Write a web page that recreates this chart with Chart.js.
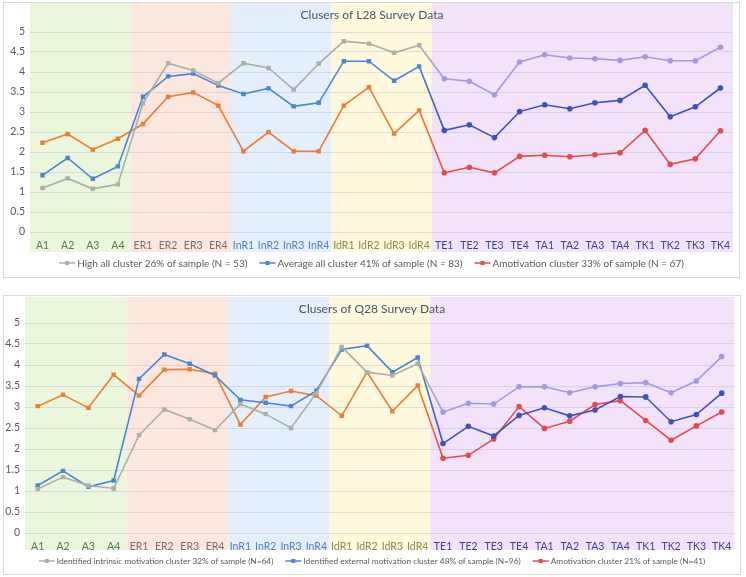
<!DOCTYPE html>
<html>
<head>
<meta charset="utf-8">
<script src="https://cdn.jsdelivr.net/npm/chart.js@4"></script>
<style>
  body { margin: 0; background: #fff; width: 746px; height: 577px; position: relative; overflow: hidden; }
  .box { position: absolute; border: 1px solid #d9d9d9; box-sizing: border-box; }
  #box1 { left: 3px; top: 2px; width: 737px; height: 276px; }
  #box2 { left: 3px; top: 295px; width: 738px; height: 280px; }
</style>
</head>
<body>
<div class="box" id="box1"><canvas id="chart1"></canvas></div>
<div class="box" id="box2"><canvas id="chart2"></canvas></div>
<script>
// categorias
const cats = ['A1','A2','A3','A4','ER1','ER2','ER3','ER4','InR1','InR2','InR3','InR4',
  'IdR1','IdR2','IdR3','IdR4','TE1','TE2','TE3','TE4','TA1','TA2','TA3','TA4','TK1','TK2','TK3','TK4'];
// grupos de fondo (A, ER, InR, IdR, T)
const groupSizes = [4, 4, 4, 4, 12];
const yTicks = [0, 0.5, 1, 1.5, 2, 2.5, 3, 3.5, 4, 4.5, 5];

// L28
const l28Labels = ['High all cluster 26% of sample (N = 53)',
  'Average all cluster 41% of sample (N = 83)',
  'Amotivation cluster 33% of sample (N = 67)'];
const l28High = [1.10,1.34,1.08,1.19,3.22,4.22,4.04,3.72,4.22,4.10,3.56,4.21,4.77,4.71,4.48,4.67,
  3.83,3.77,3.43,4.25,4.43,4.35,4.33,4.29,4.38,4.28,4.28,4.62];
const l28Avg = [1.42,1.85,1.33,1.64,3.38,3.89,3.96,3.66,3.45,3.59,3.14,3.23,4.27,4.27,3.78,4.14,
  2.54,2.68,2.36,3.01,3.18,3.08,3.23,3.29,3.67,2.88,3.13,3.60];
const l28Amot = [2.23,2.45,2.06,2.33,2.70,3.38,3.49,3.16,2.02,2.50,2.02,2.02,3.16,3.62,2.46,3.04,
  1.48,1.62,1.48,1.89,1.92,1.88,1.93,1.98,2.54,1.69,1.83,2.53];

// Q28
const q28Labels = ['Identified intrinsic motivation cluster 32% of sample (N=64)',
  'Identified external motivation cluster 48% of sample (N=96)',
  'Amotivation cluster 21% of sample (N=41)'];
const q28Intr = [1.05,1.33,1.13,1.06,2.33,2.94,2.71,2.45,3.07,2.83,2.50,3.33,4.43,3.83,3.75,4.03,
  2.88,3.09,3.07,3.48,3.48,3.34,3.48,3.56,3.58,3.34,3.62,4.20];
const q28Ext = [1.13,1.48,1.10,1.25,3.67,4.25,4.03,3.75,3.17,3.10,3.02,3.39,4.37,4.46,3.83,4.18,
  2.13,2.54,2.31,2.80,2.98,2.79,2.93,3.25,3.24,2.65,2.82,3.33];
const q28Amot = [3.02,3.29,2.98,3.77,3.27,3.89,3.90,3.79,2.58,3.24,3.38,3.27,2.79,3.83,2.90,3.51,
  1.78,1.85,2.24,3.01,2.49,2.66,3.06,3.15,2.68,2.21,2.55,2.88];

// colores
const bandColors = ['#ebf7dd', '#fce7df', '#e4effb', '#fef9dd', '#f2e3fb'];
const tickColors = ['#56793f', '#7d6b6b', '#4d7fc2', '#8a8a50', '#3d3da6'];
const earlyColors = ['#a8b0a8', '#4a86d6', '#ed7d31'];
const lateColors = ['#a29be0', '#3d52c0', '#e64a4a'];
const splitIdx = 16; // primer punto de la zona T
const font = 'Lato';

function groupOf(i) {
  let acc = 0;
  for (let g = 0; g < groupSizes.length; g++) {
    acc += groupSizes[g];
    if (i < acc) return g;
  }
  return groupSizes.length - 1;
}

// fondos, titulo y leyenda tipo Excel
const decoPlugin = {
  id: 'deco',
  beforeDraw(chart, args, opts) {
    const { ctx, chartArea, scales: { x } } = chart;
    const w = x.getPixelForValue(1) - x.getPixelForValue(0);
    let start = 0;
    ctx.save();
    groupSizes.forEach((n, g) => {
      const left = x.getPixelForValue(start) - w / 2;
      const right = x.getPixelForValue(start + n - 1) + w / 2;
      ctx.fillStyle = bandColors[g];
      ctx.fillRect(left, opts.bandTop, right - left, chartArea.bottom + opts.bandBelow - opts.bandTop);
      start += n;
    });
    ctx.restore();
  },
  afterDraw(chart, args, opts) {
    const { ctx } = chart;
    ctx.save();
    ctx.font = '12px ' + font;
    ctx.fillStyle = '#44546a';
    ctx.textAlign = 'center';
    ctx.textBaseline = 'middle';
    ctx.fillText(opts.title, opts.titleX, opts.titleY);

    // leyenda
    ctx.font = opts.legendSize + 'px ' + font;
    ctx.textAlign = 'left';
    const iconW = 16, gap = 2, spacing = 12;
    const items = chart.data.datasets.map((d, k) => ({
      text: d.label,
      color: k === 2 ? lateColors[k] : earlyColors[k],
      w: iconW + gap + ctx.measureText(d.label).width
    }));
    const total = items.reduce((s, it) => s + it.w, 0) + spacing * (items.length - 1);
    let cx = chart.width / 2 - total / 2;
    const y = opts.legendY;
    items.forEach(it => {
      ctx.strokeStyle = it.color;
      ctx.lineWidth = 1.5;
      ctx.beginPath(); ctx.moveTo(cx, y); ctx.lineTo(cx + iconW, y); ctx.stroke();
      ctx.fillStyle = it.color;
      ctx.fillRect(cx + iconW / 2 - 2, y - 2, 4, 4);
      ctx.fillStyle = '#595959';
      ctx.fillText(it.text, cx + iconW + gap, y + 0.5);
      cx += it.w + spacing;
    });
    ctx.restore();
  }
};

function makeDataset(label, values, k) {
  return {
    label: label,
    data: values,
    borderColor: earlyColors[k],
    backgroundColor: earlyColors[k],
    borderWidth: 1.6,
    tension: 0,
    pointRadius: 2,
    pointStyle: ctx => ctx.dataIndex >= splitIdx ? 'circle' : 'rect',
    pointBackgroundColor: ctx => ctx.dataIndex >= splitIdx ? lateColors[k] : earlyColors[k],
    pointBorderColor: ctx => ctx.dataIndex >= splitIdx ? lateColors[k] : earlyColors[k],
    segment: {
      borderColor: ctx => {
        if (ctx.p1DataIndex === splitIdx) {
          const gr = ctx.chart.ctx.createLinearGradient(ctx.p0.x, ctx.p0.y, ctx.p1.x, ctx.p1.y);
          gr.addColorStop(0, earlyColors[k]);
          gr.addColorStop(1, lateColors[k]);
          return gr;
        }
        return ctx.p0DataIndex >= splitIdx ? lateColors[k] : earlyColors[k];
      }
    }
  };
}

function makeChart(id, title, labels, series, cfg) {
  return new Chart(document.getElementById(id), {
    type: 'line',
    data: {
      labels: cats,
      datasets: series.map((s, k) => makeDataset(labels[k], s, k))
    },
    options: {
      responsive: true,
      maintainAspectRatio: false,
      animation: false,
      layout: { padding: cfg.padding },
      plugins: {
        tooltip: { enabled: false },
        legend: { display: false },
        deco: {
          bandTop: cfg.bandTop, bandBelow: cfg.bandBelow,
          title: title, titleX: cfg.titleX, titleY: cfg.titleY,
          legendY: cfg.legendY, legendSize: cfg.legendSize
        }
      },
      scales: {
        x: {
          offset: true,
          grid: { display: false, drawTicks: false },
          border: { display: false },
          ticks: {
            color: ctx => tickColors[groupOf(ctx.index)],
            font: { family: font, size: 10.5 },
            maxRotation: 0,
            autoSkip: false,
            padding: 7
          },
          afterFit: s => { s.height = 22; }
        },
        y: {
          min: 0,
          max: 5.5,
          afterBuildTicks: s => { s.ticks = yTicks.concat([5.5]).map(v => ({ value: v })); },
          grid: {
            color: ctx => ctx.tick && ctx.tick.value > 5 ? 'transparent' : 'rgba(170,170,200,0.35)',
            drawTicks: false
          },
          border: { display: false },
          ticks: {
            color: '#595959',
            font: { family: font, size: 10.5 },
            padding: 5,
            callback: v => v > 5 ? '' : v
          },
          afterFit: s => { s.width = cfg.yWidth; s.paddingTop = 0; s.paddingBottom = 0; }
        }
      }
    },
    plugins: [decoPlugin]
  });
}

makeChart('chart1', 'Clusers of L28 Survey Data', l28Labels, [l28High, l28Avg, l28Amot], {
  padding: { top: 9, right: 6, left: 0, bottom: 23 },
  yWidth: 26, bandTop: 0, bandBelow: 20,
  titleX: 368, titleY: 12, legendY: 260, legendSize: 10
});
makeChart('chart2', 'Clusers of Q28 Survey Data', q28Labels, [q28Intr, q28Ext, q28Amot], {
  padding: { top: 6, right: 3, left: 0, bottom: 19 },
  yWidth: 21, bandTop: 1, bandBelow: 17,
  titleX: 368, titleY: 13, legendY: 265, legendSize: 8.3
});
</script>
</body>
</html>
